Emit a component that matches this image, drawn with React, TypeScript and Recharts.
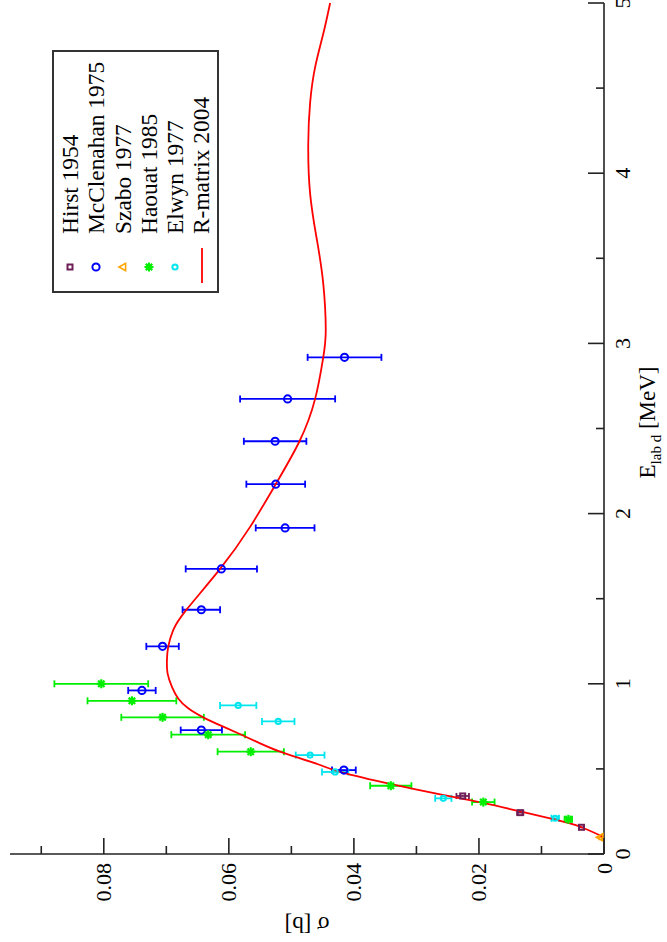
import React from 'react';
import { ComposedChart, Scatter, Line, XAxis, YAxis, ErrorBar, Legend } from 'recharts';

// deuteron energy (MeV), cross section (b), error (b)
const hirstE = [0.157, 0.243, 0.341];
const hirstS = [0.0036, 0.0134, 0.0226];
const hirstErr = [0.0004, 0.0005, 0.001];

const mccE = [0.493, 0.728, 0.961, 1.22, 1.435, 1.675, 1.916, 2.173, 2.425, 2.674, 2.918];
const mccS = [0.0416, 0.0644, 0.0739, 0.0706, 0.0644, 0.0612, 0.051, 0.0525, 0.0526, 0.0506, 0.0415];
const mccErr = [0.0019, 0.0033, 0.0022, 0.0026, 0.003, 0.0057, 0.0047, 0.0047, 0.005, 0.0076, 0.0059];

const szaboE = [0.098];
const szaboS = [0.0006];
const szaboErr = [0.0002];

const haouatE = [0.204, 0.305, 0.401, 0.601, 0.701, 0.803, 0.9, 1.0];
const haouatS = [0.0057, 0.0193, 0.0341, 0.0565, 0.0633, 0.0706, 0.0755, 0.0804];
const haouatErr = [0.0006, 0.0018, 0.0033, 0.0053, 0.0059, 0.0066, 0.0071, 0.0075];

const elwynE = [0.21, 0.327, 0.482, 0.581, 0.779, 0.873];
const elwynS = [0.0078, 0.0257, 0.043, 0.047, 0.0521, 0.0585];
const elwynErr = [0.0006, 0.0013, 0.0021, 0.0023, 0.0026, 0.0029];

const rmatE = [
  0.098, 0.157, 0.2, 0.25, 0.3, 0.35, 0.41, 0.483, 0.523, 0.562, 0.601, 0.65, 0.699, 0.748, 0.803, 0.856, 0.914,
  0.982, 1.061, 1.139, 1.217, 1.315, 1.434, 1.675, 1.922, 2.173, 2.425, 2.674, 2.918, 3.08, 3.351, 3.605, 3.879,
  4.173, 4.415, 4.623, 4.819, 5.0,
];
const rmatS = [
  0.0, 0.0036, 0.0076, 0.0134, 0.0193, 0.0262, 0.034, 0.0422, 0.0454, 0.0486, 0.0518, 0.055, 0.0579, 0.0609, 0.0641,
  0.0665, 0.0681, 0.0691, 0.0698, 0.0699, 0.0697, 0.0689, 0.0668, 0.0614, 0.0566, 0.0525, 0.0487, 0.0462, 0.0449,
  0.0445, 0.0449, 0.0459, 0.047, 0.0473, 0.047, 0.0462, 0.0449, 0.0438,
];

const eTicks = [0, 0.5, 1, 1.5, 2, 2.5, 3, 3.5, 4, 4.5, 5];
const sTicks = [0, 0.01, 0.02, 0.03, 0.04, 0.05, 0.06, 0.07, 0.08, 0.09];

const seriesNames = ['Hirst 1954', 'McClenahan 1975', 'Szabo 1977', 'Haouat 1985', 'Elwyn 1977', 'R-matrix 2004'];

const HIRST = '#6e1f57';
const BLUE = '#0000ff';
const ORANGE = '#ffa500';
const GREEN = '#00ee00';
const CYAN = '#00e5ee';
const RED = '#ff0000';
const AXIS = '#222';
const FONT = '"Liberation Serif", "Times New Roman", serif';

const toPoints = (e: number[], s: number[], err: number[]) => e.map((v, i) => ({ e: v, s: s[i], err: err[i] }));
const curve = rmatE.map((v, i) => ({ e: v, s: rmatS[i] }));

const SquareDot = (p: any) => (
  <rect x={p.cx - 2.5} y={p.cy - 2.5} width={5} height={5} fill="none" stroke={HIRST} strokeWidth={2} />
);
const BlueDot = (p: any) => <circle cx={p.cx} cy={p.cy} r={3.6} fill="none" stroke={BLUE} strokeWidth={2} />;
const CyanDot = (p: any) => <circle cx={p.cx} cy={p.cy} r={2.6} fill="none" stroke={CYAN} strokeWidth={2} />;
const TriDot = (p: any) => (
  <polygon
    points={`${p.cx},${p.cy - 4} ${p.cx - 3.6},${p.cy + 2.6} ${p.cx + 3.6},${p.cy + 2.6}`}
    fill="none"
    stroke={ORANGE}
    strokeWidth={1.6}
  />
);
const StarDot = (p: any) => (
  <g stroke={GREEN} strokeWidth={2.2}>
    <line x1={p.cx - 4.5} y1={p.cy} x2={p.cx + 4.5} y2={p.cy} />
    <line x1={p.cx} y1={p.cy - 4.5} x2={p.cx} y2={p.cy + 4.5} />
    <line x1={p.cx - 3.2} y1={p.cy - 3.2} x2={p.cx + 3.2} y2={p.cy + 3.2} />
    <line x1={p.cx - 3.2} y1={p.cy + 3.2} x2={p.cx + 3.2} y2={p.cy - 3.2} />
  </g>
);

const isMajor = (v: number, step: number) => Math.abs(v / step - Math.round(v / step)) < 1e-6;

const ETick = (props: any) => {
  const { x, y, payload, top } = props;
  const v = payload.value;
  const major = isMajor(v, 1);
  const len = major ? 16 : 8;
  const dir = top ? 1 : -1;
  return (
    <g>
      <line x1={x} y1={y} x2={x} y2={y + dir * len} stroke={AXIS} strokeWidth={1.6} />
      {!top && major && (
        <text x={x} y={y + 26} textAnchor="middle" fontSize={22} fontFamily={FONT} fill="#000">
          {v}
        </text>
      )}
    </g>
  );
};

const STick = (props: any) => {
  const { x, y, payload, right } = props;
  const v = payload.value;
  const major = isMajor(v, 0.02);
  const len = major ? 16 : 8;
  const dir = right ? -1 : 1;
  return (
    <g>
      <line x1={x} y1={y} x2={x + dir * len} y2={y} stroke={AXIS} strokeWidth={1.6} />
      {!right && major && (
        <text x={x - 9} y={y + 7.5} textAnchor="end" fontSize={22} fontFamily={FONT} fill="#000">
          {v === 0 ? '0' : v.toFixed(2)}
        </text>
      )}
    </g>
  );
};

const ELabel = (props: any) => {
  const vb = props.viewBox || { x: 88, y: 604, width: 851 };
  return (
    <text x={vb.x + vb.width / 2 + 6} y={vb.y + 51} textAnchor="middle" fontSize={23} fontFamily={FONT} fill="#000">
      E
      <tspan fontSize={15} dy={6}>lab d</tspan>
      <tspan dy={-6}> [MeV]</tspan>
    </text>
  );
};

const SigmaLabel = (props: any) => {
  const vb = props.viewBox || { x: 28, y: 10, height: 594 };
  const cx = vb.x - 3;
  const cy = vb.y + vb.height / 2;
  return (
    <text x={cx} y={cy} transform={`rotate(-90, ${cx}, ${cy})`} textAnchor="middle" fontSize={23} fontFamily={FONT} fill="#000">
      σ [b]
    </text>
  );
};

const legendSymbols = [
  <rect key="h" x={21.5} y={10.5} width={5} height={5} fill="none" stroke={HIRST} strokeWidth={2} />,
  <circle key="m" cx={24} cy={13} r={3.6} fill="none" stroke={BLUE} strokeWidth={2} />,
  <polygon key="s" points="24,9 20.4,15.6 27.6,15.6" fill="none" stroke={ORANGE} strokeWidth={1.6} />,
  <g key="a" stroke={GREEN} strokeWidth={2.2}>
    <line x1={19.5} y1={13} x2={28.5} y2={13} />
    <line x1={24} y1={8.5} x2={24} y2={17.5} />
    <line x1={20.8} y1={9.8} x2={27.2} y2={16.2} />
    <line x1={20.8} y1={16.2} x2={27.2} y2={9.8} />
  </g>,
  <circle key="e" cx={24} cy={13} r={2.6} fill="none" stroke={CYAN} strokeWidth={2} />,
  <line key="r" x1={8} y1={13} x2={43} y2={13} stroke={RED} strokeWidth={1.8} />,
];

const renderLegend = () => (
  <div
    style={{
      width: 243,
      height: 167,
      boxSizing: 'border-box',
      border: '2px solid #333',
      background: '#fff',
      paddingTop: 3,
      fontFamily: FONT,
      fontSize: 23.4,
      color: '#000',
    }}
  >
    {seriesNames.map((name, i) => (
      <div key={name} style={{ display: 'flex', alignItems: 'center', height: 26.3, lineHeight: '26.3px', whiteSpace: 'nowrap' }}>
        <svg width={57} height={26} style={{ flex: 'none' }}>
          {legendSymbols[i]}
        </svg>
        <span>{name}</span>
      </div>
    ))}
  </div>
);

export default function App() {
  return (
    <div style={{ position: 'absolute', left: 0, top: 0, width: 667, height: 942, overflow: 'hidden', background: '#fff' }}>
      <div
        style={{
          position: 'absolute',
          left: 0,
          top: 0,
          width: 942,
          height: 667,
          transformOrigin: '0 0',
          transform: 'translate(0px, 942px) rotate(-90deg)',
        }}
      >
        <ComposedChart width={942} height={667} margin={{ top: 10, right: 3, bottom: 23, left: 28 }}>
          <XAxis
            xAxisId="e"
            type="number"
            dataKey="e"
            domain={[0, 5]}
            ticks={eTicks}
            interval={0}
            height={40}
            tickSize={0}
            tickMargin={0}
            tickLine={false}
            axisLine={{ stroke: AXIS, strokeWidth: 1.6 }}
            tick={<ETick />}
            label={<ELabel />}
          />
          <XAxis
            xAxisId="eTop"
            orientation="top"
            type="number"
            dataKey="e"
            domain={[0, 5]}
            ticks={eTicks}
            interval={0}
            height={0}
            tickSize={0}
            tickMargin={0}
            tickLine={false}
            axisLine={{ stroke: AXIS, strokeWidth: 1.6 }}
            tick={<ETick top />}
          />
          <YAxis
            yAxisId="s"
            type="number"
            dataKey="s"
            domain={[0, 0.095]}
            ticks={sTicks}
            interval={0}
            width={60}
            tickSize={0}
            tickMargin={0}
            tickLine={false}
            axisLine={{ stroke: AXIS, strokeWidth: 1.6 }}
            tick={<STick />}
            label={<SigmaLabel />}
          />
          <YAxis
            yAxisId="sRight"
            orientation="right"
            type="number"
            dataKey="s"
            domain={[0, 0.095]}
            ticks={sTicks}
            interval={0}
            width={0}
            tickSize={0}
            tickMargin={0}
            tickLine={false}
            axisLine={{ stroke: AXIS, strokeWidth: 1.6 }}
            tick={<STick right />}
          />
          <Legend
            verticalAlign="middle"
            align="center"
            layout="horizontal"
            content={renderLegend}
            wrapperStyle={{ left: 649, top: 52, width: 243, height: 167 }}
          />
          <Scatter xAxisId="e" yAxisId="s" name={seriesNames[0]} data={toPoints(hirstE, hirstS, hirstErr)} shape={SquareDot} isAnimationActive={false}>
            <ErrorBar dataKey="err" direction="y" width={3} stroke={HIRST} strokeWidth={1.8} />
          </Scatter>
          <Scatter xAxisId="e" yAxisId="s" name={seriesNames[1]} data={toPoints(mccE, mccS, mccErr)} shape={BlueDot} isAnimationActive={false}>
            <ErrorBar dataKey="err" direction="y" width={3.5} stroke={BLUE} strokeWidth={1.8} />
          </Scatter>
          <Scatter xAxisId="e" yAxisId="s" name={seriesNames[2]} data={toPoints(szaboE, szaboS, szaboErr)} shape={TriDot} isAnimationActive={false}>
            <ErrorBar dataKey="err" direction="y" width={3} stroke={ORANGE} strokeWidth={1.6} />
          </Scatter>
          <Scatter xAxisId="e" yAxisId="s" name={seriesNames[3]} data={toPoints(haouatE, haouatS, haouatErr)} shape={StarDot} isAnimationActive={false}>
            <ErrorBar dataKey="err" direction="y" width={3.5} stroke={GREEN} strokeWidth={1.8} />
          </Scatter>
          <Scatter xAxisId="e" yAxisId="s" name={seriesNames[4]} data={toPoints(elwynE, elwynS, elwynErr)} shape={CyanDot} isAnimationActive={false}>
            <ErrorBar dataKey="err" direction="y" width={3.5} stroke={CYAN} strokeWidth={1.8} />
          </Scatter>
          <Line
            xAxisId="e"
            yAxisId="s"
            name={seriesNames[5]}
            data={curve}
            dataKey="s"
            type="natural"
            stroke={RED}
            strokeWidth={1.8}
            dot={false}
            activeDot={false}
            isAnimationActive={false}
          />
        </ComposedChart>
      </div>
    </div>
  );
}
